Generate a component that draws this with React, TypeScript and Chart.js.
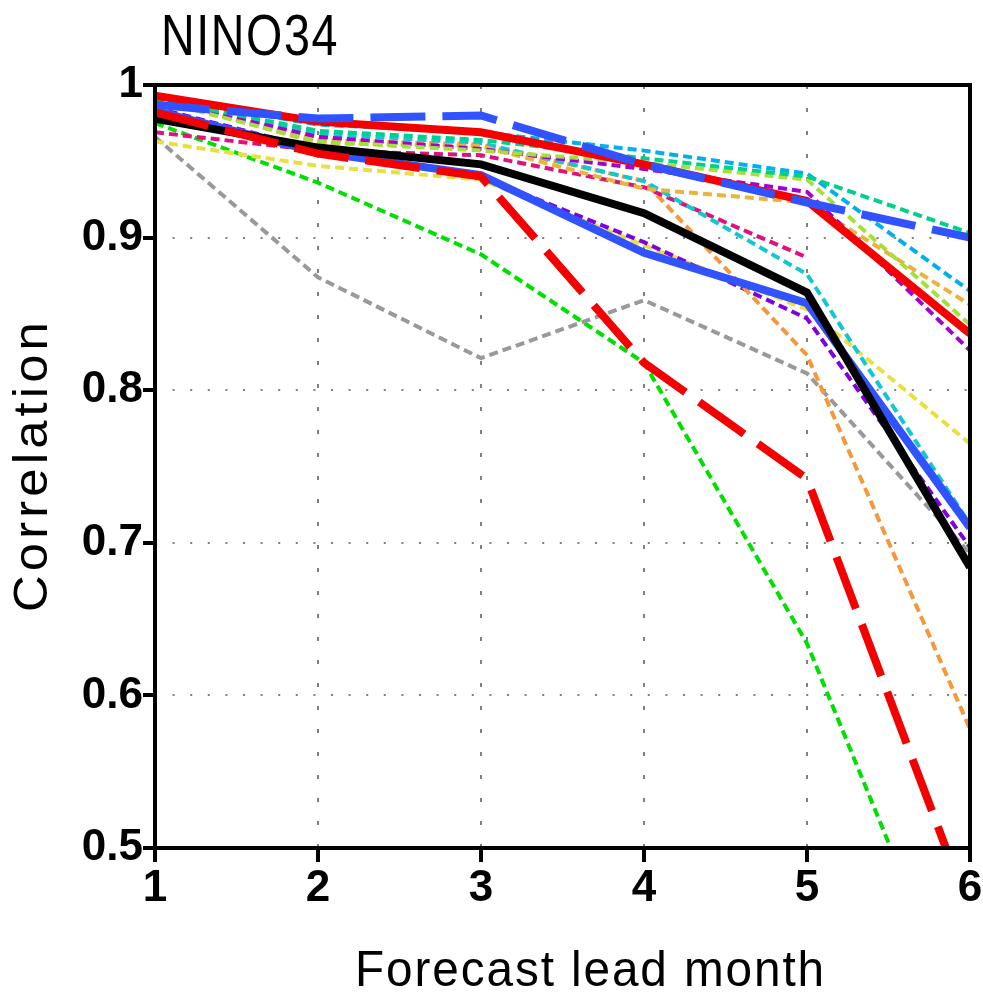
import React, { useEffect, useRef } from "react";
import { Chart, registerables } from "chart.js";

Chart.register(...registerables);

const leadMonths = [1, 2, 3, 4, 5, 6];
const xTicks = [1, 2, 3, 4, 5, 6];
const yTicks = [0.5, 0.6, 0.7, 0.8, 0.9, 1];

const blueDashed = [0.987, 0.978, 0.98, 0.948, 0.923, 0.9];
const redDashed = [0.982, 0.955, 0.94, 0.818, 0.742, 0.458];
const redSolid = [0.993, 0.976, 0.969, 0.948, 0.924, 0.837];
const blackSolid = [0.978, 0.959, 0.948, 0.916, 0.864, 0.684];
const blueSolid = [0.983, 0.956, 0.941, 0.89, 0.857, 0.71];

const seaGreen = [0.991, 0.97, 0.964, 0.952, 0.94, 0.903];
const skyBlue = [0.992, 0.974, 0.969, 0.957, 0.942, 0.865];
const lightGreen = [0.99, 0.963, 0.957, 0.949, 0.938, 0.843];
const violet = [0.99, 0.966, 0.958, 0.945, 0.93, 0.826];
const goldenrod = [0.992, 0.962, 0.96, 0.932, 0.923, 0.856];
const cyan = [0.99, 0.968, 0.962, 0.937, 0.876, 0.712];
const pink = [0.969, 0.957, 0.954, 0.933, 0.887, null];
const orange = [0.992, 0.964, 0.961, 0.937, 0.823, 0.578];
const purple = [0.985, 0.958, 0.94, 0.897, 0.847, 0.697];
const yellow = [0.963, 0.947, 0.938, 0.895, 0.853, 0.765];
const gray = [0.966, 0.874, 0.821, 0.859, 0.811, 0.693];
const green = [0.975, 0.936, 0.889, 0.818, 0.634, 0.373];

const titleText = "NINO34";
const xTitle = "Forecast lead month";
const yTitle = "Correlation";

type S = { values: (number | null)[]; color: string; thick: boolean; dashed: boolean };

const series: S[] = [
  { values: blueDashed, color: "#3152ff", thick: true, dashed: true },
  { values: redDashed, color: "#f50000", thick: true, dashed: true },
  { values: redSolid, color: "#f50000", thick: true, dashed: false },
  { values: blackSolid, color: "#000000", thick: true, dashed: false },
  { values: blueSolid, color: "#3152ff", thick: true, dashed: false },
  { values: seaGreen, color: "#00d08c", thick: false, dashed: true },
  { values: skyBlue, color: "#00b0ee", thick: false, dashed: true },
  { values: lightGreen, color: "#a4e03a", thick: false, dashed: true },
  { values: violet, color: "#a400d4", thick: false, dashed: true },
  { values: goldenrod, color: "#e8b43c", thick: false, dashed: true },
  { values: cyan, color: "#10c8d0", thick: false, dashed: true },
  { values: pink, color: "#e0107c", thick: false, dashed: true },
  { values: orange, color: "#f5983c", thick: false, dashed: true },
  { values: purple, color: "#8000e0", thick: false, dashed: true },
  { values: yellow, color: "#e8e040", thick: false, dashed: true },
  { values: gray, color: "#999999", thick: false, dashed: true },
  { values: green, color: "#00e000", thick: false, dashed: true },
];

function drawScaledText(ctx: any, text: string, x: number, y: number, targetWidth: number) {
  const w = ctx.measureText(text).width;
  const sx = targetWidth / w;
  ctx.save();
  ctx.translate(x, y);
  ctx.scale(sx, 1);
  ctx.textAlign = "left";
  ctx.fillText(text, 0, 0);
  ctx.restore();
}

const framePlugin = {
  id: "framePlugin",
  afterDraw(chart: any) {
    const { ctx, chartArea } = chart;
    const { left, right, top, bottom } = chartArea;
    ctx.save();
    ctx.strokeStyle = "#000";
    ctx.lineWidth = 4;
    ctx.setLineDash([]);
    ctx.strokeRect(left, top, right - left, bottom - top);

    ctx.fillStyle = "#000";
    ctx.textBaseline = "alphabetic";
    ctx.font = "58px 'Liberation Sans', sans-serif";
    (ctx as any).letterSpacing = "2px";
    drawScaledText(ctx, titleText, 161, 55, 178);

    ctx.font = "50px 'Liberation Sans', sans-serif";
    (ctx as any).letterSpacing = "2px";
    drawScaledText(ctx, xTitle, 355, 986, 471);

    ctx.save();
    ctx.translate(47, 612);
    ctx.rotate(-Math.PI / 2);
    ctx.font = "49px 'Liberation Sans', sans-serif";
    (ctx as any).letterSpacing = "4px";
    drawScaledText(ctx, yTitle, 0, 0, 294);
    ctx.restore();
    ctx.restore();
  },
};

export default function App() {
  const ref = useRef<HTMLCanvasElement | null>(null);
  useEffect(() => {
    if (!ref.current) return;
    const datasets = series.map((s, i) => ({
      label: "s" + i,
      data: leadMonths.map((m, j) => ({ x: m, y: s.values[j] })),
      borderColor: s.color,
      backgroundColor: s.color,
      borderWidth: s.thick ? 8 : 4,
      borderDash: s.dashed ? (s.thick ? [55, 17] : [9, 5]) : [],
      pointRadius: 0,
      tension: 0,
      fill: false,
      clip: 0,
      spanGaps: false,
    }));
    const tickFont = { family: "'Liberation Sans', sans-serif", weight: "bold", size: 44 };
    const chart = new Chart(ref.current, {
      type: "line",
      data: { datasets },
      options: {
        animation: false,
        responsive: true,
        maintainAspectRatio: false,
        devicePixelRatio: 1,
        layout: { padding: { top: 85, right: 13, left: 0, bottom: 0 } },
        plugins: { legend: { display: false }, tooltip: { enabled: false }, title: { display: false } },
        scales: {
          x: {
            type: "linear",
            min: 1,
            max: 6,
            afterBuildTicks: (scale: any) => {
              scale.ticks = xTicks.map((v) => ({ value: v }));
            },
            afterFit: (scale: any) => {
              scale.height = 148;
            },
            ticks: {
              color: "#000",
              font: tickFont,
              padding: 0,
              maxRotation: 0,
              callback: (v: any) => String(v),
            },
            grid: {
              color: "#808080",
              lineWidth: 2,
              drawTicks: true,
              tickLength: 14,
              tickWidth: 4,
              tickColor: "#000",
            },
            border: { display: false, dash: [4, 19] },
          },
          y: {
            type: "linear",
            min: 0.5,
            max: 1,
            afterBuildTicks: (scale: any) => {
              scale.ticks = yTicks.map((v) => ({ value: v }));
            },
            afterFit: (scale: any) => {
              scale.width = 155;
            },
            ticks: {
              color: "#000",
              font: tickFont,
              padding: 0,
              callback: (v: any) => String(Number(Number(v).toFixed(1))),
            },
            grid: {
              color: "#808080",
              lineWidth: 2,
              drawTicks: true,
              tickLength: 12,
              tickWidth: 4,
              tickColor: "#000",
            },
            border: { display: false, dash: [2, 15.6] },
          },
        },
      },
      plugins: [framePlugin],
    } as any);
    return () => chart.destroy();
  }, []);
  return (
    <div style={{ position: "fixed", left: 0, top: 0, width: 983, height: 996, background: "#fff" }}>
      <canvas ref={ref} />
    </div>
  );
}
